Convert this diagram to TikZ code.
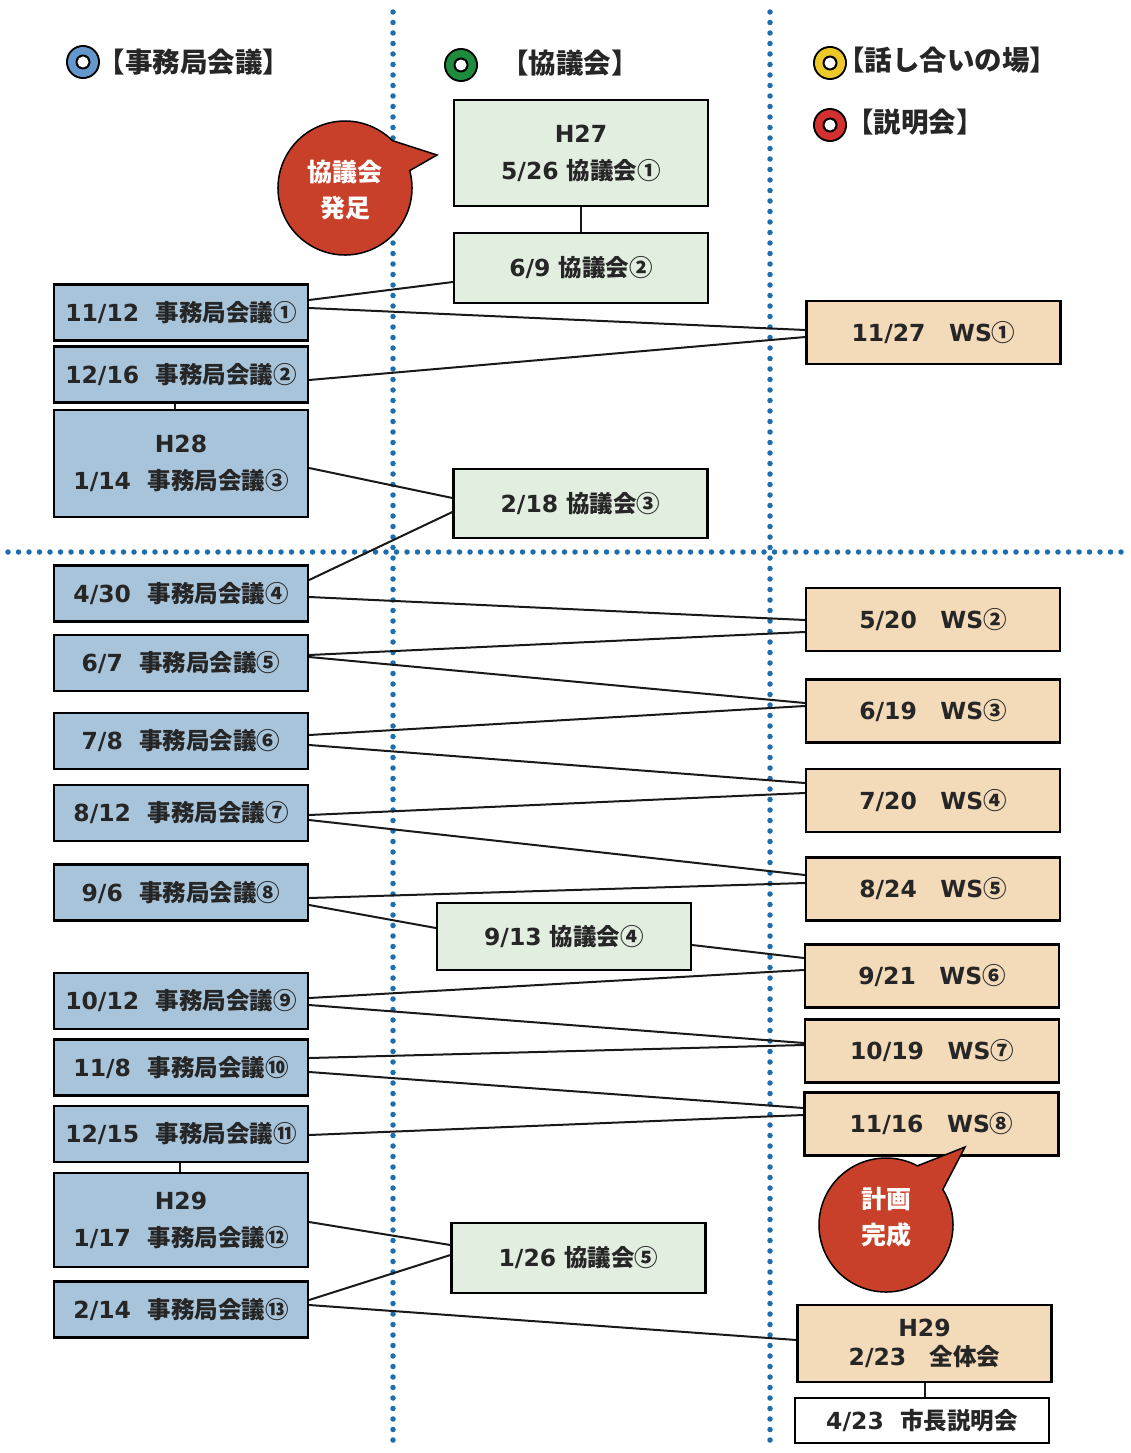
\documentclass[tikz,border=0pt]{standalone}
\usepackage{fontspec}
\setmainfont{DejaVu Sans}
\newfontfamily\cjk{Noto Sans CJK JP}
\newcommand\J[1]{{\cjk #1}}
\usetikzlibrary{calc}
\definecolor{bluebox}{RGB}{168,196,218}
\definecolor{greenbox}{RGB}{226,239,224}
\definecolor{tanbox}{RGB}{243,218,185}
\definecolor{bubred}{RGB}{200,64,42}
\definecolor{dotblue}{RGB}{30,110,175}
\definecolor{legblue}{RGB}{100,152,204}
\definecolor{leggreen}{RGB}{30,140,60}
\definecolor{legyellow}{RGB}{236,200,40}
\definecolor{legred}{RGB}{212,48,48}
\tikzset{
  box/.style={draw=black, line width=2.2pt, minimum width=254pt, inner sep=0pt, align=center,
    font=\bfseries\fontsize{23.5}{37}\selectfont, text=black!85},
  bbox/.style={box, fill=bluebox, minimum height=56pt},
  gbox/.style={box, fill=greenbox},
  tbox/.style={box, fill=tanbox, minimum height=63pt},
  conn/.style={line width=2pt, black!90},
  dotline/.style={line width=5.5pt, line cap=round, dash pattern=on 0pt off 10.5pt, color=dotblue},
  legtext/.style={font=\bfseries\fontsize{27.5}{30}\selectfont\cjk, text=black!85, inner sep=0pt},
  bubble/.style={fill=bubred, draw=black, line width=1.5pt},
  bubtext/.style={font=\bfseries\fontsize{25}{36}\selectfont\cjk, text=white, align=center, inner sep=0pt},
  pics/ring/.style={code={
    \fill[black] (0,0) circle[radius=17];
    \fill[#1] (0,0) circle[radius=15];
    \fill[black] (0,0) circle[radius=7.5];
    \fill[white] (0,0) circle[radius=5.5];
  }},
}
\begin{document}
\begin{tikzpicture}[x=1pt,y=-1pt]
\useasboundingbox (0,0) rectangle (1130,1453);
\fill[white] (0,0) rectangle (1130,1453);

% dotted separators
\draw[dotline] (393,12) -- (393,1450);
\draw[dotline] (770,12) -- (770,1450);
\draw[dotline] (8,552) -- (1125,552);

% legend
\pic at (83,62) {ring=legblue};
\node[legtext] (L1) at (194,62) {【事務局会議】};
\pic at (461,65) {ring=leggreen};
\node[legtext] (L2) at (570,63) {【協議会】};
\pic at (830,63) {ring=legyellow};
\node[legtext] (L3) at (947,60) {【話し合いの場】};
\pic at (830,125) {ring=legred};
\node[legtext] (L4) at (915,122) {【説明会】};

% green boxes
\node[gbox, minimum height=106pt] (G1) at (581,153) {H27\\5/26 \J{協議会①}};
\node[gbox, minimum height=70pt] (G2) at (581,268) {6/9 \J{協議会②}};
\node[gbox, minimum height=69pt] (G3) at (580.5,503.5) {2/18 \J{協議会③}};
\node[gbox, minimum height=67pt] (G4) at (564,936.5) {9/13 \J{協議会④}};
\node[gbox, minimum height=70pt] (G5) at (578.5,1258) {1/26 \J{協議会⑤}};

% blue boxes
\node[bbox] (B1) at (181,312.5) {11/12\hspace{0.7em}\J{事務局会議①}};
\node[bbox] (B2) at (181,374.5) {12/16\hspace{0.7em}\J{事務局会議②}};
\node[bbox, minimum height=107pt] (B3) at (181,463.5) {H28\\1/14\hspace{0.7em}\J{事務局会議③}};
\node[bbox] (B4) at (181,593.5) {4/30\hspace{0.7em}\J{事務局会議④}};
\node[bbox] (B5) at (181,663) {6/7\hspace{0.7em}\J{事務局会議⑤}};
\node[bbox] (B6) at (181,741) {7/8\hspace{0.7em}\J{事務局会議⑥}};
\node[bbox] (B7) at (181,813) {8/12\hspace{0.7em}\J{事務局会議⑦}};
\node[bbox] (B8) at (181,892.5) {9/6\hspace{0.7em}\J{事務局会議⑧}};
\node[bbox] (B9) at (181,1001) {10/12\hspace{0.7em}\J{事務局会議⑨}};
\node[bbox] (B10) at (181,1067.5) {11/8\hspace{0.7em}\J{事務局会議⑩}};
\node[bbox] (B11) at (181,1134) {12/15\hspace{0.7em}\J{事務局会議⑪}};
\node[bbox, minimum height=94pt] (B12) at (181,1220) {H29\\1/17\hspace{0.7em}\J{事務局会議⑫}};
\node[bbox] (B13) at (181,1309.5) {2/14\hspace{0.7em}\J{事務局会議⑬}};

% tan boxes
\node[tbox] (T1) at (933.5,332.5) {11/27\hspace{1em}WS\J{①}};
\node[tbox] (T2) at (933,619.5) {5/20\hspace{1em}WS\J{②}};
\node[tbox] (T3) at (933,711) {6/19\hspace{1em}WS\J{③}};
\node[tbox] (T4) at (933,800.5) {7/20\hspace{1em}WS\J{④}};
\node[tbox] (T5) at (933,889) {8/24\hspace{1em}WS\J{⑤}};
\node[tbox] (T6) at (932,976) {9/21\hspace{1em}WS\J{⑥}};
\node[tbox] (T7) at (932,1051) {10/19\hspace{1em}WS\J{⑦}};
\node[tbox] (T8) at (931.5,1124) {11/16\hspace{1em}WS\J{⑧}};
\node[tbox, minimum height=77pt, font=\bfseries\fontsize{23.5}{29}\selectfont] (T9) at (924.5,1343.5) {H29\\2/23\hspace{1em}\J{全体会}};
\node[box, fill=white, minimum height=45pt] (W1) at (922,1420.5) {4/23\hspace{0.7em}\J{市長説明会}};

% vertical links
\draw[conn] (G1.south) -- (G2.north);
\draw[conn] ([xshift=-6pt]B2.south) -- ([xshift=-6pt]B3.north);
\draw[conn] ([xshift=-1pt]B11.south) -- ([xshift=-1pt]B12.north);
\draw[conn] (T9.south) -- (T9.south |- W1.north);

% connectors
\draw[conn] ([yshift=12.5pt]B1.east) -- ([yshift=-14pt]G2.west);
\draw[conn] ([yshift=4.5pt]B1.east) -- ([yshift=2.5pt]T1.west);
\draw[conn] ([yshift=-5.5pt]B2.east) -- ([yshift=-4.5pt]T1.west);
\draw[conn] ([yshift=-4.5pt]B3.east) -- ([yshift=5.5pt]G3.west);
\draw[conn] ([yshift=-8.5pt]G3.west) -- ([yshift=13.5pt]B4.east);
\draw[conn] ([yshift=-3.5pt]B4.east) -- ([yshift=-0.5pt]T2.west);
\draw[conn] ([yshift=-12.5pt]T2.west) -- ([yshift=8pt]B5.east);
\draw[conn] ([yshift=6pt]B5.east) -- ([yshift=8pt]T3.west);
\draw[conn] ([yshift=5pt]T3.west) -- ([yshift=6pt]B6.east);
\draw[conn] ([yshift=-4pt]B6.east) -- ([yshift=17.5pt]T4.west);
\draw[conn] ([yshift=7.5pt]T4.west) -- ([yshift=-2pt]B7.east);
\draw[conn] ([yshift=-7pt]B7.east) -- ([yshift=14pt]T5.west);
\draw[conn] ([yshift=6pt]T5.west) -- ([yshift=-5.5pt]B8.east);
\draw[conn] ([yshift=-12.5pt]B8.east) -- ([yshift=8.5pt]G4.west);
\draw[conn] ([yshift=-8.5pt]G4.east) -- ([yshift=18pt]T6.west);
\draw[conn] ([yshift=6pt]T6.west) -- ([yshift=3pt]B9.east);
\draw[conn] ([yshift=-4pt]B9.east) -- ([yshift=8pt]T7.west);
\draw[conn] ([yshift=6pt]T7.west) -- ([yshift=9.5pt]B10.east);
\draw[conn] ([yshift=-4.5pt]B10.east) -- ([yshift=16pt]T8.west);
\draw[conn] ([yshift=9pt]T8.west) -- ([yshift=-1pt]B11.east);
\draw[conn] ([yshift=-2pt]B12.east) -- ([yshift=13pt]G5.west);
\draw[conn] ([yshift=3pt]G5.west) -- ([yshift=9.5pt]B13.east);
\draw[conn] ([yshift=4.5pt]B13.east) -- ([yshift=3.5pt]T9.west);

% speech bubbles
\coordinate (tip1) at (437,155);
\path[bubble] ($(345,188)+(-45:67)$) -- (tip1) -- ($(345,188)+(-15:67)$)
  arc[start angle=-15, end angle=315, radius=67] -- cycle;
\node[bubtext] (bt1) at (345,190) {協議会\\発足};

\coordinate (tip2) at (965,1147);
\path[bubble] ($(886,1225)+(-62:67)$) -- (tip2) -- ($(886,1225)+(-32:67)$)
  arc[start angle=-32, end angle=298, radius=67] -- cycle;
\node[bubtext] (bt2) at (886,1217) {計画\\完成};
\end{tikzpicture}
\end{document}
